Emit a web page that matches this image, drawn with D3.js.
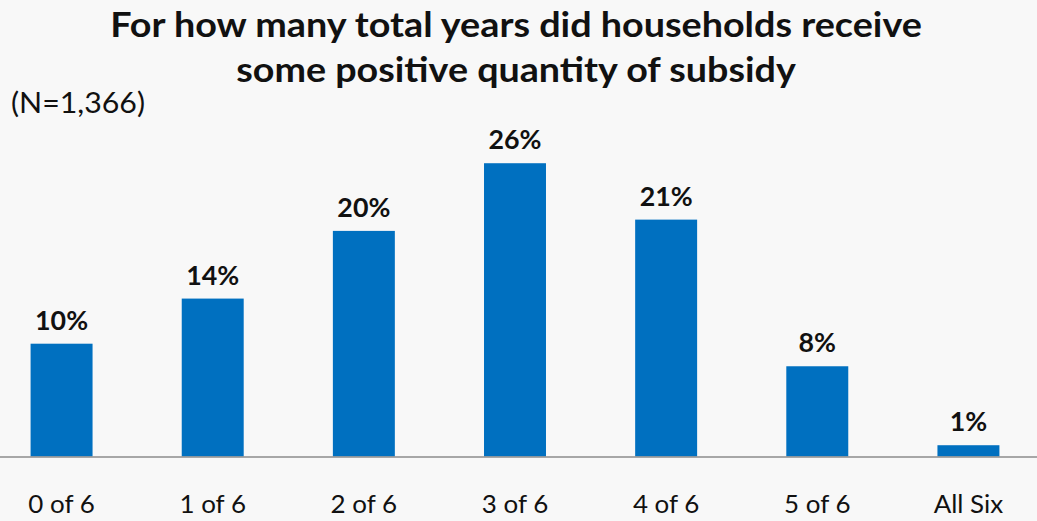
<!DOCTYPE html>
<html>
<head>
<meta charset="utf-8">
<script src="https://cdn.jsdelivr.net/npm/d3@7"></script>
<style>
  html, body { margin: 0; padding: 0; background: #f8f8f8; }
</style>
</head>
<body>
<div id="chart"></div>
<script>
// Data
const categories = ["0 of 6", "1 of 6", "2 of 6", "3 of 6", "4 of 6", "5 of 6", "All Six"];
const shares = [10, 14, 20, 26, 21, 8, 1];
const titleLines = [
  "For how many total years did households receive",
  "some positive quantity of subsidy"
];
const sampleNote = "(N=1,366)";

const width = 1037;
const height = 521;
const font = "Lato, 'Open Sans', sans-serif";

const svg = d3.select("#chart")
  .append("svg")
  .attr("width", width)
  .attr("height", height)
  .style("font-family", font)
  .style("display", "block");

svg.append("rect")
  .attr("width", width)
  .attr("height", height)
  .attr("fill", "#f8f8f8");

// scales: plot area runs slightly past the picture edges
const x = d3.scaleBand()
  .domain(categories)
  .range([-14, 1044])
  .paddingInner(0.59)
  .paddingOuter(0.295);

const y = d3.scaleLinear()
  .domain([0, 30])
  .range([456.5, 118.1]);

// Lato is wider than the original font: draw texts inside a group that is
// squeezed horizontally (k) about its anchor point
function addText(parent, px, py, str, size, weight, anchor) {
  const g = parent.append("g").attr("transform", `translate(${px},${py})`);
  const t = g.append("text")
    .attr("text-anchor", anchor || "start")
    .style("font-size", size + "px")
    .style("font-weight", weight || 400)
    .style("fill", "#111")
    .text(str);
  return t;
}
function squeeze(t, k) {
  t.attr("transform", `scale(${k.toFixed(3)},1)`);
}

// bars
svg.append("g")
  .selectAll("rect")
  .data(shares)
  .join("rect")
  .attr("x", (d, i) => x(categories[i]))
  .attr("y", d => y(d))
  .attr("width", x.bandwidth())
  .attr("height", d => y(0) - y(d))
  .attr("fill", "#0070c0");

// baseline
svg.append("line")
  .attr("x1", 0)
  .attr("x2", width)
  .attr("y1", y(0) + 0.5)
  .attr("y2", y(0) + 0.5)
  .attr("stroke", "#8c8c8c")
  .attr("stroke-width", 1.5);

// value labels
const gVal = svg.append("g");
const valTexts = shares.map((d, i) =>
  addText(gVal, x(categories[i]) + x.bandwidth() / 2, y(d) - 14, d + "%", 27, 700, "middle"));
const kVal = 53 / valTexts[shares.indexOf(26)].node().getComputedTextLength();
valTexts.forEach(t => squeeze(t, kVal));

// category labels
const gCat = svg.append("g");
const catTexts = categories.map(c =>
  addText(gCat, x(c) + x.bandwidth() / 2, 513, c, 25, 400, "middle"));
const kCat = 66.5 / catTexts[categories.indexOf("3 of 6")].node().getComputedTextLength();
catTexts.forEach(t => squeeze(t, kCat));

// title
const titleWidths = [812, 560];
const titleBase = [37, 82];
titleLines.forEach((s, i) => {
  const t = addText(svg, 516, titleBase[i], s, 34.5, 700, "middle");
  squeeze(t, titleWidths[i] / t.node().getComputedTextLength());
});

// sample size note
const note = addText(svg, 11, 113, sampleNote, 28, 400, "start");
squeeze(note, 134 / note.node().getComputedTextLength());
</script>
</body>
</html>
